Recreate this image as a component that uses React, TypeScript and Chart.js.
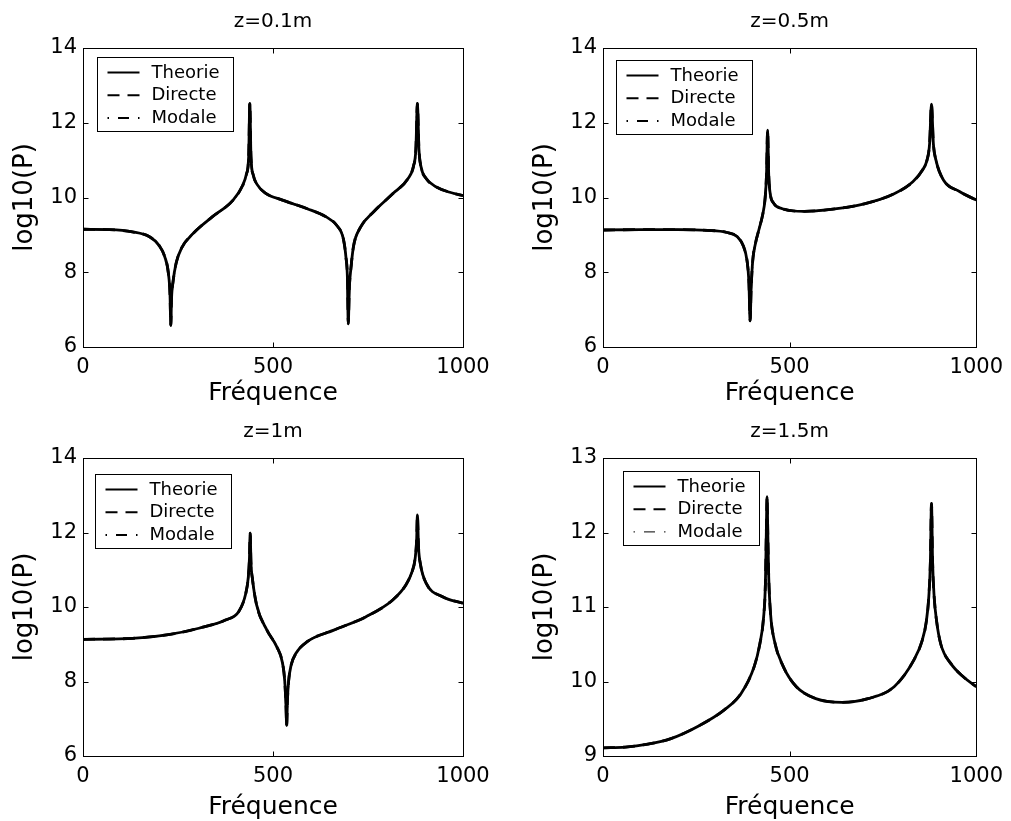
import React, { useEffect, useRef } from "react";
import { Chart, registerables } from "chart.js";

Chart.register(...registerables);

const FONT = "'DejaVu Sans', 'Liberation Sans', sans-serif";

// ---- text / ticks ----
const X_TICKS = [0, 500, 1000];
const Y_TICKS_A = [6, 8, 10, 12, 14];
const Y_TICKS_B = [9, 10, 11, 12, 13];
const SERIES_LABELS = ["Theorie", "Directe", "Modale"];
const TITLES = ["z=0.1m", "z=0.5m", "z=1m", "z=1.5m"];
const X_LABEL = "Fréquence";
const Y_LABEL = "log10(P)";

// ---- data: z = 0.1 m ----
const FREQ_1 = [0, 70, 130, 175, 200, 215, 225, 229, 231, 233, 237, 245, 260, 290, 340, 395, 420, 430, 436, 439, 442, 448, 458, 480, 525, 590, 640, 668, 685, 692, 696, 698, 701, 705, 712, 730, 765, 815, 855, 870, 876, 880, 884, 890, 902, 930, 965, 1000];
const THEORIE_1 = [9.15, 9.14, 9.08, 8.95, 8.72, 8.42, 7.95, 7.4, 6.58, 7.3, 7.75, 8.24, 8.66, 9.04, 9.48, 9.93, 10.32, 10.62, 11.1, 12.52, 11.1, 10.6, 10.35, 10.12, 9.93, 9.7, 9.48, 9.25, 8.9, 8.4, 7.8, 6.62, 7.6, 8.1, 8.7, 9.2, 9.62, 10.1, 10.5, 10.85, 11.3, 12.52, 11.3, 10.8, 10.52, 10.28, 10.14, 10.05];
const DIRECTE_1 = THEORIE_1;
const MODALE_1 = THEORIE_1;

// ---- data: z = 0.5 m ----
const FREQ_2 = [0, 100, 200, 280, 330, 360, 376, 386, 391, 394, 397, 401, 408, 418, 428, 434, 438, 441, 444, 448, 457, 480, 540, 610, 700, 780, 830, 855, 868, 875, 880, 885, 892, 912, 955, 1000];
const THEORIE_2 = [9.13, 9.14, 9.14, 9.12, 9.07, 8.95, 8.7, 8.3, 7.7, 6.7, 7.6, 8.3, 8.75, 9.15, 9.55, 9.95, 10.6, 11.8, 10.6, 10.1, 9.85, 9.7, 9.63, 9.68, 9.83, 10.1, 10.42, 10.72, 11.0, 11.45, 12.5, 11.45, 11.0, 10.47, 10.16, 9.93];
const DIRECTE_2 = THEORIE_2;
const MODALE_2 = THEORIE_2;

// ---- data: z = 1 m ----
const FREQ_3 = [0, 130, 220, 305, 375, 410, 428, 435, 438, 440, 442, 446, 457, 484, 510, 525, 531, 534, 536, 538, 541, 548, 560, 590, 660, 745, 815, 850, 866, 874, 878, 880, 883, 888, 903, 945, 1000];
const THEORIE_3 = [9.13, 9.16, 9.25, 9.43, 9.65, 9.88, 10.35, 10.8, 11.3, 11.98, 11.2, 10.75, 10.05, 9.38, 8.93, 8.5, 8.0, 7.4, 6.82, 7.5, 8.0, 8.45, 8.75, 9.07, 9.38, 9.74, 10.19, 10.6, 10.95, 11.3, 11.8, 12.47, 11.6, 11.15, 10.64, 10.28, 10.1];
const DIRECTE_3 = THEORIE_3;
const MODALE_3 = THEORIE_3;

// ---- data: z = 1.5 m ----
const FREQ_4 = [0, 60, 120, 180, 255, 325, 370, 405, 420, 430, 435, 437.5, 439.5, 441.5, 444, 449, 459, 483, 518, 570, 640, 710, 780, 833, 855, 866, 873, 877, 880, 883, 887, 894, 905, 932, 966, 1000];
const THEORIE_4 = [9.11, 9.12, 9.16, 9.23, 9.4, 9.62, 9.84, 10.2, 10.5, 10.85, 11.3, 11.99, 12.48, 11.99, 11.4, 10.9, 10.55, 10.2, 9.93, 9.77, 9.72, 9.77, 9.93, 10.29, 10.55, 10.8, 11.15, 11.6, 12.39, 11.6, 11.15, 10.8, 10.5, 10.24, 10.06, 9.93];
const DIRECTE_4 = THEORIE_4;
const MODALE_4 = THEORIE_4;

const PANELS = [
  { title: TITLES[0], freq: FREQ_1, series: [THEORIE_1, DIRECTE_1, MODALE_1], yTicks: Y_TICKS_A },
  { title: TITLES[1], freq: FREQ_2, series: [THEORIE_2, DIRECTE_2, MODALE_2], yTicks: Y_TICKS_A },
  { title: TITLES[2], freq: FREQ_3, series: [THEORIE_3, DIRECTE_3, MODALE_3], yTicks: Y_TICKS_A },
  { title: TITLES[3], freq: FREQ_4, series: [THEORIE_4, DIRECTE_4, MODALE_4], yTicks: Y_TICKS_B },
];

// ---- layout / style ----
const LAYOUT = [
  { left: 0, top: 0, width: 505, height: 410, yw: 83, pr: 42, caBottom: 347, lgx: 14, lgy: 9, modaleW: 2, xtb: 2 },
  { left: 520, top: 0, width: 491, height: 410, yw: 83, pr: 28, caBottom: 347, lgx: 13, lgy: 12, modaleW: 2, xtb: 2 },
  { left: 0, top: 410, width: 505, height: 411, yw: 83, pr: 42, caBottom: 346, lgx: 12, lgy: 16, modaleW: 2, xtb: -1 },
  { left: 520, top: 410, width: 491, height: 411, yw: 83, pr: 28, caBottom: 346, lgx: 20, lgy: 13, modaleW: 1, xtb: -1 },
];
const DASHES = [[], [12, 8], [1.5, 9, 11, 9]];

const frameLegendPlugin = {
  id: "frameLegend",
  afterDraw(chart: any, _args: any, opts: any) {
    const { ctx, chartArea: ca, scales } = chart;
    ctx.save();
    ctx.strokeStyle = "#000";
    ctx.lineWidth = 1;
    ctx.setLineDash([]);
    const L = Math.round(ca.left) + 0.5;
    const T = Math.round(ca.top) + 0.5;
    const R = Math.round(ca.right) + 0.5;
    const B = Math.round(ca.bottom) + 0.5;
    ctx.strokeRect(L, T, R - L, B - T);
    const tl = 5;
    ctx.beginPath();
    scales.x.ticks.forEach((t: any) => {
      const px = Math.round(scales.x.getPixelForValue(t.value)) + 0.5;
      ctx.moveTo(px, B);
      ctx.lineTo(px, B - tl);
      ctx.moveTo(px, T);
      ctx.lineTo(px, T + tl);
    });
    scales.y.ticks.forEach((t: any) => {
      const py = Math.round(scales.y.getPixelForValue(t.value)) + 0.5;
      ctx.moveTo(L, py);
      ctx.lineTo(L + tl, py);
      ctx.moveTo(R, py);
      ctx.lineTo(R - tl, py);
    });
    ctx.stroke();

    // legend box
    const bx = Math.round(ca.left + opts.dx) + 0.5;
    const by = Math.round(ca.top + opts.dy) + 0.5;
    const bw = 136;
    const bh = 74;
    ctx.fillStyle = "#fff";
    ctx.fillRect(bx, by, bw, bh);
    ctx.strokeRect(bx, by, bw, bh);
    ctx.font = `18px ${FONT}`;
    ctx.textBaseline = "alphabetic";
    ctx.textAlign = "left";
    chart.data.datasets.forEach((ds: any, i: number) => {
      const cy = by + 15 + i * 22.7;
      ctx.setLineDash(ds.borderDash || []);
      ctx.lineWidth = Math.min(ds.borderWidth, 2);
      ctx.strokeStyle = "#000";
      ctx.lineCap = "butt";
      ctx.beginPath();
      ctx.moveTo(bx + 10, cy);
      ctx.lineTo(bx + 42, cy);
      ctx.stroke();
      ctx.setLineDash([]);
      ctx.fillStyle = "#000";
      ctx.fillText(ds.label, bx + 54, by + 20 + i * 22.8);
    });
    ctx.restore();
  },
};

function Panel({ idx }: { idx: number }) {
  const ref = useRef<HTMLCanvasElement | null>(null);
  const P = PANELS[idx];
  const G = LAYOUT[idx];

  useEffect(() => {
    const canvas = ref.current;
    if (!canvas) return;
    const yTicks = P.yTicks;
    const chart = new Chart(canvas, {
      type: "line",
      data: {
        datasets: SERIES_LABELS.map((label, k) => ({
          label,
          data: P.freq.map((f, i) => ({ x: f, y: P.series[k][i] })),
          borderColor: "#000",
          backgroundColor: "#000",
          borderWidth: k === 2 ? G.modaleW : 2.8,
          borderDash: DASHES[k],
          borderJoinStyle: "round",
          borderCapStyle: "butt",
          pointRadius: 0,
          fill: false,
          cubicInterpolationMode: "monotone",
        })),
      },
      options: {
        animation: false,
        responsive: false,
        devicePixelRatio: 1,
        events: [],
        layout: { padding: { left: 0, right: G.pr, top: 0, bottom: 0 } },
        plugins: {
          legend: { display: false },
          tooltip: { enabled: false },
          title: {
            display: true,
            text: P.title,
            fullSize: false,
            color: "#000",
            font: { family: FONT, size: 20, weight: "normal", lineHeight: 1.2 },
            padding: { top: 9.5, bottom: 14.5 },
          },
          frameLegend: { dx: G.lgx, dy: G.lgy },
        } as any,
        scales: {
          x: {
            type: "linear",
            min: 0,
            max: 1000,
            afterBuildTicks: (axis: any) => {
              axis.ticks = X_TICKS.map((value) => ({ value }));
            },
            afterFit: (axis: any) => {
              axis.height = G.height - G.caBottom;
            },
            ticks: {
              color: "#000",
              font: { family: FONT, size: 21 },
              padding: 8,
              maxRotation: 0,
              autoSkip: false,
              callback: (v: any) => String(v),
            },
            grid: { display: false, drawTicks: false },
            border: { display: false },
            title: {
              display: true,
              text: X_LABEL,
              color: "#000",
              font: { family: FONT, size: 25 },
              padding: { top: 0, bottom: G.xtb },
            },
          },
          y: {
            type: "linear",
            min: yTicks[0],
            max: yTicks[yTicks.length - 1],
            afterBuildTicks: (axis: any) => {
              axis.ticks = yTicks.map((value) => ({ value }));
            },
            afterFit: (axis: any) => {
              axis.width = G.yw;
            },
            ticks: {
              color: "#000",
              font: { family: FONT, size: 21 },
              padding: 6,
              autoSkip: false,
              callback: (v: any) => String(v),
            },
            grid: { display: false, drawTicks: false },
            border: { display: false },
            title: {
              display: true,
              text: Y_LABEL,
              color: "#000",
              font: { family: FONT, size: 26 },
              padding: { top: 10, bottom: 0 },
            },
          },
        },
      } as any,
      plugins: [frameLegendPlugin],
    });
    return () => chart.destroy();
  }, []);

  return (
    <canvas
      ref={ref}
      width={G.width}
      height={G.height}
      style={{ position: "absolute", left: G.left, top: G.top, width: G.width, height: G.height }}
    />
  );
}

export default function App() {
  return (
    <div style={{ position: "absolute", left: 0, top: 0, width: 1011, height: 821, background: "#fff", overflow: "hidden" }}>
      {PANELS.map((_, i) => (
        <Panel key={i} idx={i} />
      ))}
    </div>
  );
}
